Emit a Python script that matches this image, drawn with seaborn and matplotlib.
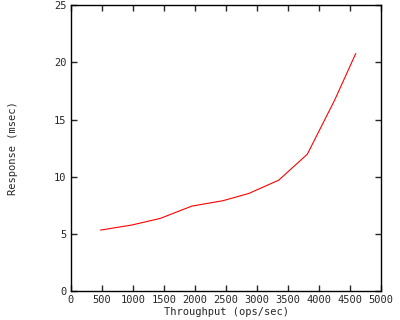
import matplotlib
matplotlib.use("Agg")
import matplotlib.pyplot as plt
import seaborn as sns
import pandas as pd

# throughput (ops/sec) vs response time (msec)
throughput = [480, 980, 1440, 1950, 2450, 2870, 3350, 3810, 4250, 4590]
response = [5.33, 5.77, 6.35, 7.43, 7.90, 8.54, 9.70, 11.97, 16.7, 20.78]
x_ticks = list(range(0, 5001, 500))
y_ticks = list(range(0, 26, 5))

df = pd.DataFrame({"throughput": throughput, "response": response})

sns.set_style("ticks")
plt.rcParams["font.family"] = ["DejaVu Sans Mono"]

fig = plt.figure(figsize=(4, 3.2), dpi=100)
ax = fig.add_axes([0.177, 0.0906, 0.776, 0.893])

sns.lineplot(data=df, x="throughput", y="response", color="#ff0000",
             linewidth=0.8, ax=ax)

ax.set_xlim(0, 5000)
ax.set_ylim(0, 25)
ax.set_xticks(x_ticks)
ax.set_yticks(y_ticks)
ax.tick_params(direction="in", length=4, width=1, labelsize=7.5,
               top=True, right=True, pad=3)
for s in ax.spines.values():
    s.set_linewidth(1)
    s.set_color("black")
ax.set_xlabel("Throughput (ops/sec)", fontsize=7.5, labelpad=1)
ax.set_ylabel("Response (msec)", fontsize=7.5, labelpad=26)

fig.savefig("out.png", dpi=100)
